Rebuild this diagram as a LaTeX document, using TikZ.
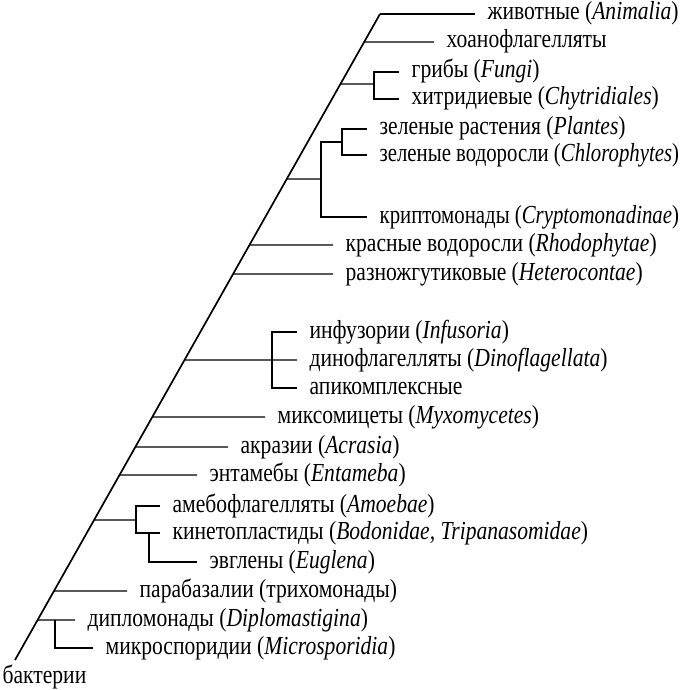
\documentclass[tikz,border=0pt]{standalone}
\usepackage{fontspec}
\setmainfont{Liberation Serif}[FakeStretch=0.83]
\begin{document}
\begin{tikzpicture}[x=1pt,y=-1pt,line width=1.3pt,
  taxon/.style={anchor=west,inner xsep=12pt,inner ysep=0pt,
    text height=18pt,text depth=6pt,font=\fontsize{26}{30}\selectfont},
  narrow/.style={font=\fontsize{26}{30}\selectfont\addfontfeature{FakeStretch=0.8}}]
  \useasboundingbox (0,0) rectangle (682,690);
  % the main stem, from the bacteria up to the animals
  \coordinate (root) at (15,660);
  \coordinate (top) at (380,14);
  \draw[line width=1.7pt] (root) -- (top);
  \node[taxon,anchor=base west,inner xsep=0pt] (bact) at (2,683) {бактерии};
  % the taxa, top to bottom
  \node[taxon] (anim)   at (475,14)  {животные (\textit{Animalia})};
  \node[taxon] (choano) at (434,42)  {хоанофлагелляты};
  \node[taxon] (fungi)  at (399,72)  {грибы (\textit{Fungi})};
  \node[taxon] (chytr)  at (399,99)  {хитридиевые (\textit{Chytridiales})};
  \node[taxon] (plant)  at (367,129) {зеленые растения (\textit{Plantes})};
  \node[taxon,narrow] (chloro) at (367,155) {зеленые водоросли (\textit{Chlorophytes})};
  \node[taxon,narrow] (crypt)  at (367,217) {криптомонады (\textit{Cryptomonadinae})};
  \node[taxon] (rhodo)  at (333,245) {красные водоросли (\textit{Rhodophytae})};
  \node[taxon] (hetero) at (333,274) {разножгутиковые (\textit{Heterocontae})};
  \node[taxon] (infus)  at (297,332) {инфузории (\textit{Infusoria})};
  \node[taxon] (dino)   at (297,360) {динофлагелляты (\textit{Dinoflagellata})};
  \node[taxon] (apic)   at (297,388) {апикомплексные};
  \node[taxon] (myxo)   at (265,417) {миксомицеты (\textit{Myxomycetes})};
  \node[taxon] (acras)  at (228,447) {акразии (\textit{Acrasia})};
  \node[taxon] (entam)  at (197,475) {энтамебы (\textit{Entameba})};
  \node[taxon] (amoeb)  at (160,506) {амебофлагелляты (\textit{Amoebae})};
  \node[taxon] (kinet)  at (160,533) {кинетопластиды (\textit{Bodonidae, Tripanasomidae})};
  \node[taxon] (eugl)   at (197,562) {эвглены (\textit{Euglena})};
  \node[taxon] (parab)  at (127,591) {парабазалии (трихомонады)};
  \node[taxon] (diplo)  at (75,620)  {дипломонады (\textit{Diplomastigina})};
  \node[taxon] (micro)  at (93,648)  {микроспоридии (\textit{Microsporidia})};
  % where each lineage leaves the stem
  \coordinate (choanoB) at (intersection of root--top and 0,42--1,42);
  \coordinate (fungiB)  at (intersection of root--top and 0,84--1,84);
  \coordinate (greenB)  at (intersection of root--top and 0,179--1,179);
  \coordinate (rhodoB)  at (intersection of root--top and 0,245--1,245);
  \coordinate (heteroB) at (intersection of root--top and 0,274--1,274);
  \coordinate (alvB)    at (intersection of root--top and 0,360--1,360);
  \coordinate (myxoB)   at (intersection of root--top and 0,417--1,417);
  \coordinate (acrasB)  at (intersection of root--top and 0,447--1,447);
  \coordinate (entamB)  at (intersection of root--top and 0,475--1,475);
  \coordinate (excB)    at (intersection of root--top and 0,520--1,520);
  \coordinate (parabB)  at (intersection of root--top and 0,591--1,591);
  \coordinate (diploB)  at (intersection of root--top and 0,620--1,620);
  % single branches
  \draw (top) -- (anim.west);
  \draw (choanoB) -- (choano.west);
  \draw (rhodoB) -- (rhodo.west);
  \draw (heteroB) -- (hetero.west);
  \draw (myxoB) -- (myxo.west);
  \draw (acrasB) -- (acras.west);
  \draw (entamB) -- (entam.west);
  \draw (parabB) -- (parab.west);
  % fungi and chytrids
  \coordinate (fungiN) at (374,84);
  \draw (fungiB) -- (fungiN);
  \draw (fungi.west) -| (fungiN) |- (chytr.west);
  % plants, green algae and cryptomonads
  \coordinate (greenN) at (321,179);
  \coordinate (greenT) at (321,142);
  \coordinate (plantN) at (342,142);
  \draw (greenB) -- (greenN);
  \draw (plant.west) -| (plantN) |- (chloro.west);
  \draw (plantN) -- (greenT) |- (crypt.west);
  % alveolates
  \coordinate (alvN) at (272,360);
  \draw (alvB) -- (dino.west);
  \draw (infus.west) -| (alvN) |- (apic.west);
  % amoeboflagellates, kinetoplastids, euglenids
  \coordinate (excN) at (136,520);
  \coordinate (euglN) at (149,533);
  \draw (excB) -- (excN);
  \draw (amoeb.west) -| (excN) |- (kinet.west);
  \draw (euglN) |- (eugl.west);
  % diplomonads and microsporidia
  \coordinate (diploN) at (55,620);
  \draw (diploB) -- (diplo.west);
  \draw (diploN) |- (micro.west);
\end{tikzpicture}
\end{document}
